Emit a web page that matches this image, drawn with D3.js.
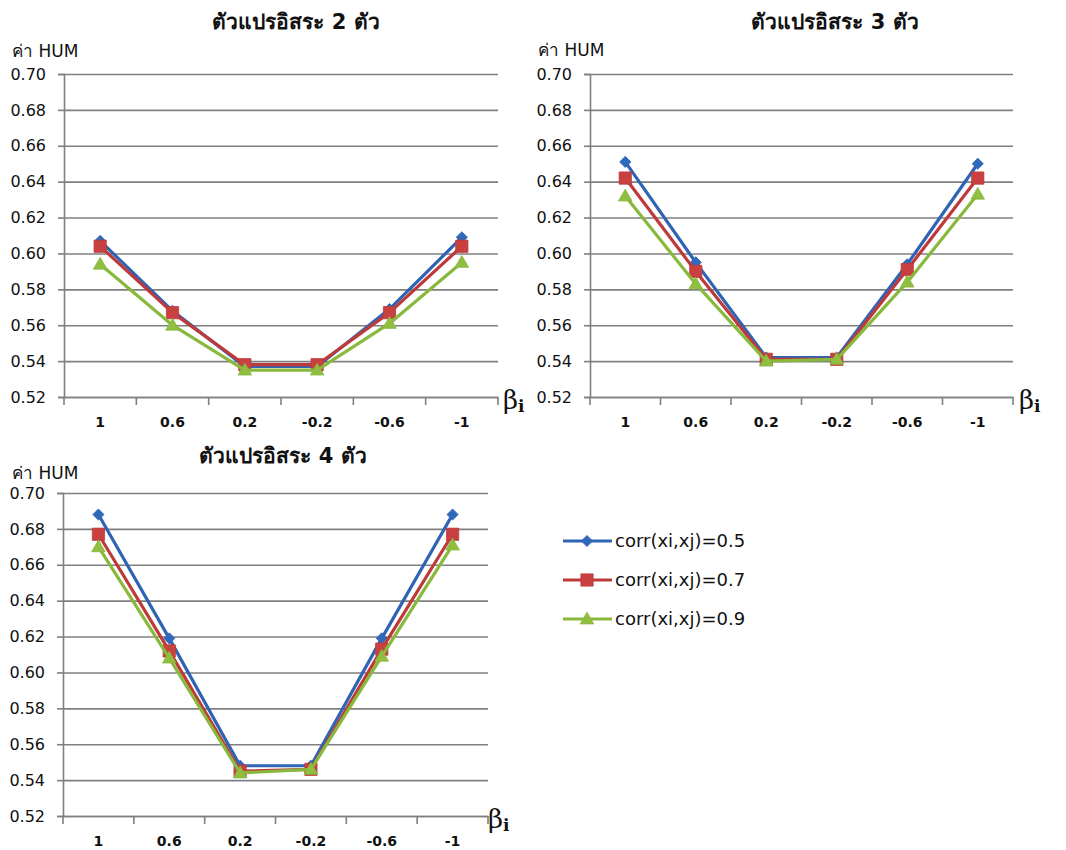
<!DOCTYPE html>
<html>
<head>
<meta charset="utf-8">
<script src="https://cdn.jsdelivr.net/npm/d3@7"></script>
<style>
  html, body { margin: 0; padding: 0; background: #fff; }
  svg { display: block; }
  .tick text { fill: #111; }
</style>
</head>
<body>
<svg id="chart" width="1066" height="850"></svg>
<script>
// β values on the category axis
const categories = ["1", "0.6", "0.2", "-0.2", "-0.6", "-1"];
const yTicks = [0.52, 0.54, 0.56, 0.58, 0.60, 0.62, 0.64, 0.66, 0.68, 0.70];
const seriesNames = ["corr(xi,xj)=0.5", "corr(xi,xj)=0.7", "corr(xi,xj)=0.9"];
const panelTitles = ["ตัวแปรอิสระ 2 ตัว", "ตัวแปรอิสระ 3 ตัว", "ตัวแปรอิสระ 4 ตัว"];

// HUM values, 2 independent variables
const vars2Corr05 = [0.607, 0.568, 0.537, 0.537, 0.569, 0.609];
const vars2Corr07 = [0.604, 0.567, 0.538, 0.538, 0.567, 0.604];
const vars2Corr09 = [0.594, 0.560, 0.535, 0.535, 0.561, 0.595];
// HUM values, 3 independent variables
const vars3Corr05 = [0.651, 0.595, 0.542, 0.542, 0.594, 0.650];
const vars3Corr07 = [0.642, 0.590, 0.541, 0.541, 0.591, 0.642];
const vars3Corr09 = [0.632, 0.583, 0.540, 0.541, 0.584, 0.633];
// HUM values, 4 independent variables
const vars4Corr05 = [0.688, 0.619, 0.548, 0.548, 0.619, 0.688];
const vars4Corr07 = [0.677, 0.612, 0.545, 0.546, 0.613, 0.677];
const vars4Corr09 = [0.670, 0.608, 0.544, 0.546, 0.609, 0.671];

const panelSeries = [
  [vars2Corr05, vars2Corr07, vars2Corr09],
  [vars3Corr05, vars3Corr07, vars3Corr09],
  [vars4Corr05, vars4Corr07, vars4Corr09]
];

const colors = ["#2F64B5", "#BE3A3A", "#88B83C"];
const markerFill = ["#3068BC", "#C8403F", "#8FBE41"];
const symbols = ["diamond", "square", "triangle"];

const FONT = "Tahoma, 'DejaVu Sans', 'Noto Sans', sans-serif";

// panel layout (plot box in pixels)
const layout = [
  { x0: 64,  x1: 498,  y0: 74,  y1: 397, titleX: 296, titleY: 29,  labX: 12,  labY: 57,  betaX: 503 },
  { x0: 590, x1: 1013, y0: 74,  y1: 397, titleX: 835, titleY: 29,  labX: 538, labY: 56,  betaX: 1019 },
  { x0: 63,  x1: 488,  y0: 493, y1: 816, titleX: 283, titleY: 463, labX: 12,  labY: 479, betaX: 488 }
];

const svg = d3.select("#chart");

function markerPath(kind) {
  if (kind === "square") return d3.symbol(d3.symbolSquare, 150)();
  if (kind === "diamond") return d3.symbol(d3.symbolSquare, 62)();
  return d3.symbol(d3.symbolTriangle, 80)();
}
function markerTransform(kind, x, y) {
  if (kind === "diamond") return `translate(${x},${y}) rotate(45)`;
  if (kind === "triangle") return `translate(${x},${y + 1})`;
  return `translate(${x},${y})`;
}

layout.forEach((L, pi) => {
  const g = svg.append("g");
  const x = d3.scaleBand().domain(categories).range([L.x0, L.x1]);
  const y = d3.scaleLinear().domain([0.52, 0.70]).range([L.y1, L.y0]);

  // horizontal gridlines
  const grid = g.append("g")
    .attr("transform", `translate(${L.x0},0)`)
    .call(d3.axisLeft(y).tickValues(yTicks).tickSizeInner(-(L.x1 - L.x0)).tickSizeOuter(0).tickFormat(""));
  grid.select(".domain").remove();
  grid.selectAll(".tick line").attr("stroke", "#7f7f7f").attr("stroke-width", 1.6);

  // y axis with labels
  const yAx = g.append("g")
    .attr("transform", `translate(${L.x0},0)`)
    .call(d3.axisLeft(y).tickValues(yTicks).tickSize(6).tickPadding(12).tickFormat(d3.format(".2f")));
  yAx.select(".domain").attr("stroke", "#7f7f7f").attr("stroke-width", 1.6);
  yAx.selectAll(".tick line").attr("stroke", "#7f7f7f").attr("stroke-width", 1.6);
  yAx.selectAll(".tick text").attr("font-family", FONT).attr("font-size", 16).attr("fill", "#111");

  // x axis with category labels
  const xAx = g.append("g")
    .attr("transform", `translate(0,${L.y1})`)
    .call(d3.axisBottom(x).tickSize(0).tickPadding(20));
  xAx.select(".domain").attr("stroke", "#7f7f7f").attr("stroke-width", 1.6);
  xAx.selectAll(".tick text").attr("font-family", FONT).attr("font-size", 14)
    .attr("font-weight", "bold").attr("fill", "#111");

  // tick marks on category boundaries
  const bounds = categories.map(c => x(c)).concat([x.range()[1]]);
  g.append("g").selectAll("line").data(bounds).join("line")
    .attr("x1", d => d).attr("x2", d => d)
    .attr("y1", L.y1).attr("y2", L.y1 + 8)
    .attr("stroke", "#7f7f7f").attr("stroke-width", 1.6);

  // title
  g.append("text").attr("x", L.titleX).attr("y", L.titleY)
    .attr("text-anchor", "middle").attr("font-family", FONT)
    .attr("font-size", 21).attr("font-weight", "bold").attr("fill", "#111")
    .text(panelTitles[pi]);

  // y axis caption
  g.append("text").attr("x", L.labX).attr("y", L.labY)
    .attr("font-family", FONT).attr("font-size", 17).attr("fill", "#111")
    .text("ค่า HUM");

  // βi caption
  const beta = g.append("text").attr("x", L.betaX).attr("y", L.y1 + 12)
    .attr("font-family", "'DejaVu Serif', 'Liberation Serif', serif")
    .attr("font-size", 26).attr("fill", "#111");
  beta.append("tspan").text("β");
  beta.append("tspan").attr("font-size", 17).attr("font-weight", "bold").attr("dy", 3).text("i");

  // series lines and markers
  const line = d3.line().x((d, i) => x(categories[i]) + x.bandwidth() / 2).y(d => y(d));
  panelSeries[pi].forEach((vals, si) => {
    g.append("path").datum(vals)
      .attr("d", line).attr("fill", "none")
      .attr("stroke", colors[si]).attr("stroke-width", 3.2)
      .attr("stroke-linejoin", "round");
    g.append("g").selectAll("path").data(vals).join("path")
      .attr("d", markerPath(symbols[si]))
      .attr("transform", (d, i) => markerTransform(symbols[si], x(categories[i]) + x.bandwidth() / 2, y(d)))
      .attr("fill", markerFill[si])
      .attr("stroke", colors[si]).attr("stroke-width", 0.8);
  });
});

// legend
const legendRows = [541, 580, 619];
const lg = svg.append("g");
seriesNames.forEach((name, si) => {
  const yy = legendRows[si];
  lg.append("line").attr("x1", 563).attr("x2", 612).attr("y1", yy).attr("y2", yy)
    .attr("stroke", colors[si]).attr("stroke-width", 3.2);
  lg.append("path").attr("d", markerPath(symbols[si]))
    .attr("transform", markerTransform(symbols[si], 587, yy))
    .attr("fill", markerFill[si]).attr("stroke", colors[si]).attr("stroke-width", 0.8);
  lg.append("text").attr("x", 615).attr("y", yy + 6)
    .attr("font-family", FONT).attr("font-size", 18).attr("fill", "#111")
    .text(name);
});
</script>
</body>
</html>
